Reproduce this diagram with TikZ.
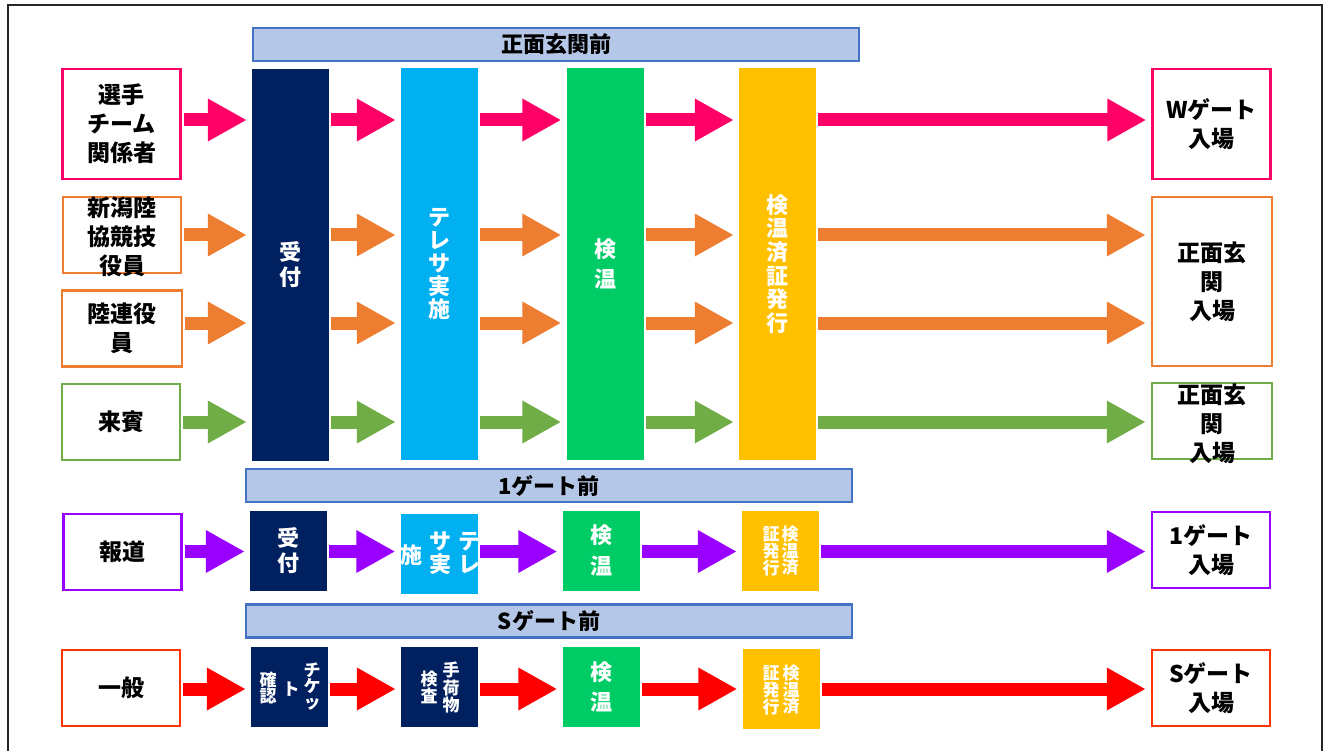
\documentclass[tikz,border=0pt]{standalone}
\usepackage{fontspec}
\newfontfamily\jp{Noto Sans CJK JP}
\usetikzlibrary{arrows.meta}

\definecolor{pinkline}{HTML}{FF0066}
\definecolor{orangeline}{HTML}{ED7D31}
\definecolor{greenline}{HTML}{70AD47}
\definecolor{purpleline}{HTML}{9900FF}
\definecolor{redline}{HTML}{FF0000}
\definecolor{redbox}{HTML}{FF3300}
\definecolor{navy}{HTML}{002060}
\definecolor{cyanbox}{HTML}{00B0F0}
\definecolor{greenbox}{HTML}{00CC66}
\definecolor{goldbox}{HTML}{FFC000}
\definecolor{hdrfill}{HTML}{B4C7E7}
\definecolor{hdrline}{HTML}{4472C4}

\begin{document}
\begin{tikzpicture}[x=1pt, y=-1pt,
    every node/.style={inner sep=0pt, align=center, font=\jp\bfseries},
    hdrbox/.style={draw=hdrline, fill=hdrfill, line width=2.5pt,
        minimum width=606pt, minimum height=33pt,
        font=\jp\bfseries\fontsize{22}{26}\selectfont},
    whotext/.style={font=\jp\bfseries\fontsize{23}{29}\selectfont},
    whobox/.style={draw, fill=white, line width=2.5pt,
        minimum width=118pt, minimum height=76pt, whotext},
    stagecol/.style={minimum width=77pt, minimum height=392pt, text=white,
        font=\jp\bfseries\fontsize{22}{23}\selectfont},
    stagebox/.style={minimum width=77pt, minimum height=80pt, text=white,
        font=\jp\bfseries\fontsize{22}{25}\selectfont},
    stagetext/.style={text=white, font=\jp\bfseries\fontsize{22}{23}\selectfont},
    smalltext/.style={text=white, font=\jp\bfseries\fontsize{17}{16}\selectfont},
    flow/.style={line width=13pt, -{Triangle[length=39pt, width=40pt]},
        shorten <=2pt, shorten >=5pt}
    ]

    \useasboundingbox (0,0) rectangle (1333,751);

    \draw[line width=2pt, black!85] (8,760) -- (8,5) -- (1322,5) -- (1322,760);

    \node[hdrbox] (hdrA) at (556,44.5) {正面玄関前};

    \node[hdrbox] (hdrB) at (549,485.5) {1ゲート前};

    \node[hdrbox] (hdrC) at (549,621) {Sゲート前};


    \node[stagecol, fill=navy,
        font=\jp\bfseries\fontsize{22}{25}\selectfont
        ] (uke) at (290.5,265) {受\\付};

    \node[stagecol, fill=cyanbox] (tere) at (439.5,264) {テ\\レ\\サ\\実\\施};

    \node[stagecol, fill=greenbox,
        font=\jp\bfseries\fontsize{22}{30}\selectfont
        ] (ken) at (605,264) {検\\温};

    \node[stagecol, fill=goldbox,
        font=\jp\bfseries\fontsize{22}{23.7}\selectfont
        ] (shomei) at (777.5,264) {検\\温\\済\\証\\発\\行};


    \node[whobox, draw=pinkline, minimum height=110pt] (senshu) at (121.5,124) {選手\\チーム\\関係者};

    \node[whobox, draw=orangeline] (niigata) at (122,235) {};

    \node[whotext] (niigatatxt) at (122,237) {新潟陸\\協競技\\役員};

    \node[whobox, draw=orangeline, minimum width=120pt] (rikuren) at (122,328.5) {陸連役\\員};

    \node[whobox, draw=greenline] (raihin) at (121,422) {来賓};

    \node[whobox, draw=purpleline] (hodo) at (122.5,552) {報道};

    \node[whobox, draw=redbox] (ippan) at (121,688) {一般};


    \node[whobox, draw=pinkline, minimum height=110pt] (wgate) at (1211.5,124) {Wゲート\\入場};

    \node[whobox, draw=orangeline, minimum width=120pt, minimum height=169pt
        ] (shomenA) at (1212,281.5) {正面玄\\関\\入場};

    \node[whobox, draw=greenline, minimum width=120pt] (shomenB) at (1212,421) {};

    \node[whotext] (shomenBtxt) at (1212,424) {正面玄\\関\\入場};

    \node[whobox, draw=purpleline] (gateA) at (1211,550) {1ゲート\\入場};

    \node[whobox, draw=redbox] (gateS) at (1211,688) {Sゲート\\入場};


    \node[stagebox, fill=navy] (ukeB) at (288.5,551) {受\\付};

    \node[stagebox, fill=cyanbox] (tereB) at (439,553.5) {};

    \begin{scope}
        \clip (tereB.south west) rectangle (tereB.north east);
        \node[stagetext] (tereBa) at (469,553.5) {テ\\レ};
        \node[stagetext] (tereBb) at (440,553.5) {サ\\実};
        \node[stagetext] (tereBc) at (411,555) {施};
    \end{scope}

    \node[stagebox, fill=greenbox,
        font=\jp\bfseries\fontsize{22}{31}\selectfont
        ] (kenB) at (601,550.5) {検\\温};

    \node[stagebox, fill=goldbox] (shomeiB) at (780.5,551) {};

    \node[smalltext] (shomeiBa) at (790,551) {検\\温\\済};

    \node[smalltext] (shomeiBb) at (771,551) {証\\発\\行};


    \node[stagebox, fill=navy] (ticket) at (289.5,687) {};

    \node[smalltext] (ticketa) at (312,686.5) {チ\\ケ\\ッ};

    \node[smalltext] (ticketb) at (291,689.5) {ト};

    \node[smalltext] (ticketc) at (268,687.5) {確\\認};

    \node[stagebox, fill=navy] (nimotsu) at (439.5,687) {};

    \node[smalltext] (nimotsua) at (451,687.5) {手\\荷\\物};

    \node[smalltext] (nimotsub) at (429,687.5) {検\\査};

    \node[stagebox, fill=greenbox,
        font=\jp\bfseries\fontsize{22}{30}\selectfont
        ] (kenC) at (601,686.5) {検\\温};

    \node[stagebox, fill=goldbox] (shomeiC) at (781,689) {};

    \node[smalltext] (shomeiCa) at (791,690) {検\\温\\済};

    \node[smalltext] (shomeiCb) at (771,690) {証\\発\\行};


    \coordinate (rowA) at (0,120);
    \coordinate (rowB) at (0,235);
    \coordinate (rowC) at (0,323);
    \coordinate (rowD) at (0,422);
    \coordinate (rowE) at (0,551.5);
    \coordinate (rowF) at (0,689);

    \draw[flow, pinkline] (senshu.east |- rowA) -- (uke.west |- rowA);
    \draw[flow, pinkline] (uke.east |- rowA) -- (tere.west |- rowA);
    \draw[flow, pinkline] (tere.east |- rowA) -- (ken.west |- rowA);
    \draw[flow, pinkline] (ken.east |- rowA) -- (shomei.west |- rowA);
    \draw[flow, pinkline] (shomei.east |- rowA) -- (wgate.west |- rowA);

    \draw[flow, orangeline] (niigata.east |- rowB) -- (uke.west |- rowB);
    \draw[flow, orangeline] (uke.east |- rowB) -- (tere.west |- rowB);
    \draw[flow, orangeline] (tere.east |- rowB) -- (ken.west |- rowB);
    \draw[flow, orangeline] (ken.east |- rowB) -- (shomei.west |- rowB);
    \draw[flow, orangeline] (shomei.east |- rowB) -- (shomenA.west |- rowB);

    \draw[flow, orangeline] (rikuren.east |- rowC) -- (uke.west |- rowC);
    \draw[flow, orangeline] (uke.east |- rowC) -- (tere.west |- rowC);
    \draw[flow, orangeline] (tere.east |- rowC) -- (ken.west |- rowC);
    \draw[flow, orangeline] (ken.east |- rowC) -- (shomei.west |- rowC);
    \draw[flow, orangeline] (shomei.east |- rowC) -- (shomenA.west |- rowC);

    \draw[flow, greenline] (raihin.east |- rowD) -- (uke.west |- rowD);
    \draw[flow, greenline] (uke.east |- rowD) -- (tere.west |- rowD);
    \draw[flow, greenline] (tere.east |- rowD) -- (ken.west |- rowD);
    \draw[flow, greenline] (ken.east |- rowD) -- (shomei.west |- rowD);
    \draw[flow, greenline] (shomei.east |- rowD) -- (shomenB.west |- rowD);

    \draw[flow, purpleline] (hodo.east |- rowE) -- (ukeB.west |- rowE);
    \draw[flow, purpleline] (ukeB.east |- rowE) -- (tereB.west |- rowE);
    \draw[flow, purpleline] (tereB.east |- rowE) -- (kenB.west |- rowE);
    \draw[flow, purpleline] (kenB.east |- rowE) -- (shomeiB.west |- rowE);
    \draw[flow, purpleline] (shomeiB.east |- rowE) -- (gateA.west |- rowE);

    \draw[flow, redline] (ippan.east |- rowF) -- (ticket.west |- rowF);
    \draw[flow, redline] (ticket.east |- rowF) -- (nimotsu.west |- rowF);
    \draw[flow, redline] (nimotsu.east |- rowF) -- (kenC.west |- rowF);
    \draw[flow, redline] (kenC.east |- rowF) -- (shomeiC.west |- rowF);
    \draw[flow, redline] (shomeiC.east |- rowF) -- (gateS.west |- rowF);

\end{tikzpicture}
\end{document}
